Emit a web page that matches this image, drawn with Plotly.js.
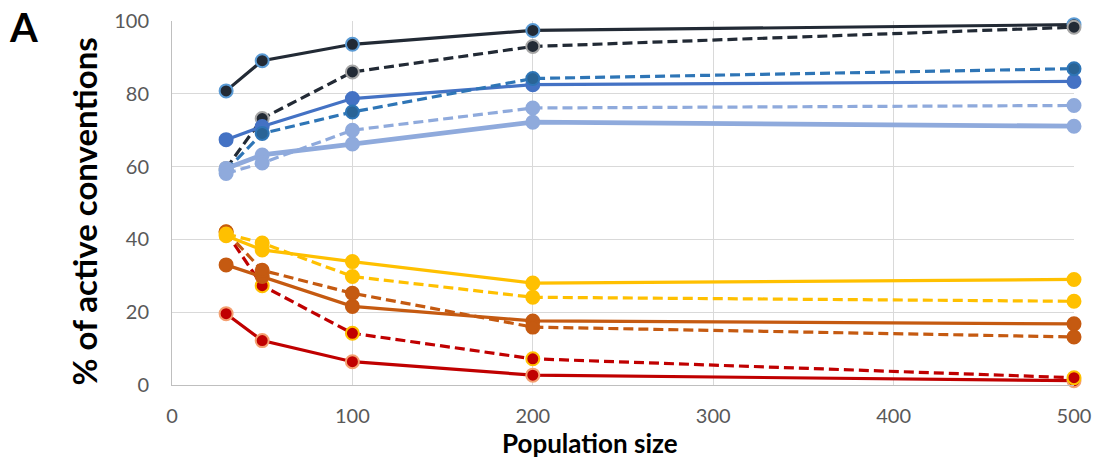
<!DOCTYPE html>
<html><head><meta charset="utf-8">
<script src="https://cdn.plot.ly/plotly-3.0.1.min.js"></script>
<style>html,body{margin:0;padding:0;background:#fff}#chart{width:1099px;height:459px}</style>
</head><body><div id="chart"></div>
<script>
const popSize = [30, 50, 100, 200, 500];
const blackSolid  = [80.8, 89.1, 93.6, 97.4, 99.0];
const blackDashed = [59.5, 73.2, 86.0, 93.0, 98.3];
const blueSolid   = [67.4, 71.0, 78.7, 82.5, 83.4];
const blueDashed  = [59.0, 69.1, 75.0, 84.2, 86.9];
const lightSolid  = [59.5, 63.2, 66.2, 72.2, 71.1];
const lightDashed = [58.1, 61.0, 70.0, 76.1, 76.8];
const redSolid    = [19.6, 12.2, 6.4, 2.7, 1.2];
const redDashed   = [42.0, 27.3, 14.2, 7.2, 2.0];
const orangeSolid = [33.0, 29.8, 21.6, 17.6, 16.8];
const orangeDashed= [42.1, 31.5, 25.2, 15.9, 13.2];
const yellowSolid = [41.0, 37.1, 33.9, 28.0, 29.0];
const yellowDashed= [41.5, 39.0, 29.8, 24.1, 23.0];
const xTicks = [0, 100, 200, 300, 400, 500];
const yTicks = [0, 20, 40, 60, 80, 100];

function tr(y, color, dashed, mfill, mline, lw) {
  return {
    x: popSize, y: y, type: 'scatter', mode: 'lines+markers', cliponaxis: false,
    line: {color: color, width: lw || 3.2, dash: dashed ? '10px,5px' : 'solid'},
    marker: {size: 13, color: mfill || color, line: {color: mline || mfill || color, width: 2}},
    hoverinfo: 'skip'
  };
}
const data = [
  tr(blackSolid, '#222a35', false, '#222a35', '#5b9bd5'),
  tr(blackDashed, '#222a35', true, '#222a35', '#a6a6a6'),
  tr(blueSolid, '#4472c4', false),
  tr(blueDashed, '#2e75b6', true, '#2a6496', '#2e75b6'),
  tr(lightSolid, '#8faadc', false, null, null, 4.8),
  tr(lightDashed, '#8faadc', true),
  tr(redSolid, '#c00000', false, '#c00000', '#f4a071'),
  tr(redDashed, '#c00000', true, '#c00000', '#ffc000'),
  tr(orangeSolid, '#c55a11', false),
  tr(orangeDashed, '#c55a11', true),
  tr(yellowSolid, '#ffc000', false),
  tr(yellowDashed, '#ffc000', true)
];
const layout = {
  width: 1099, height: 459,
  margin: {l: 172, r: 25, t: 20.5, b: 73.5},
  showlegend: false,
  paper_bgcolor: '#fff', plot_bgcolor: '#fff',
  font: {family: 'Lato, "Open Sans", sans-serif', color: '#595959', size: 20},
  xaxis: {range: [0, 500], tickvals: xTicks, ticktext: xTicks.map(String), showgrid: true, gridcolor: '#d9d9d9', gridwidth: 1,
    zeroline: false, showline: true, linecolor: '#bfbfbf', linewidth: 1, ticks: '', ticklabelstandoff: 13, fixedrange: true},
  yaxis: {range: [0, 100], tickvals: yTicks, ticktext: yTicks.map(String), showgrid: true, gridcolor: '#d9d9d9', gridwidth: 1,
    zeroline: false, showline: true, linecolor: '#bfbfbf', linewidth: 1, ticks: '', ticklabelstandoff: 18, fixedrange: true},
  annotations: [
    {text: 'Population size', xref: 'paper', yref: 'paper', x: (590-172)/902, y: -(444-385.5)/365, xanchor: 'center', yanchor: 'middle',
      showarrow: false, font: {family: 'Lato, sans-serif', size: 26, color: '#000', weight: 'bold'}},
    {text: '% of active conventions', xref: 'paper', yref: 'paper', x: -(172-84)/902, y: (385.5-211.5)/365, xanchor: 'center', yanchor: 'middle',
      textangle: -90, showarrow: false, font: {family: 'Lato, sans-serif', size: 33, color: '#000', weight: 'bold'}},
    {text: 'A', xref: 'paper', yref: 'paper', x: -(172-23)/902, y: (385.5-27)/365, xanchor: 'center', yanchor: 'middle',
      showarrow: false, font: {family: 'Lato, sans-serif', size: 40, color: '#000', weight: 'bold'}}
  ]
};
Plotly.newPlot('chart', data, layout, {displayModeBar: false, staticPlot: true});
</script></body></html>
